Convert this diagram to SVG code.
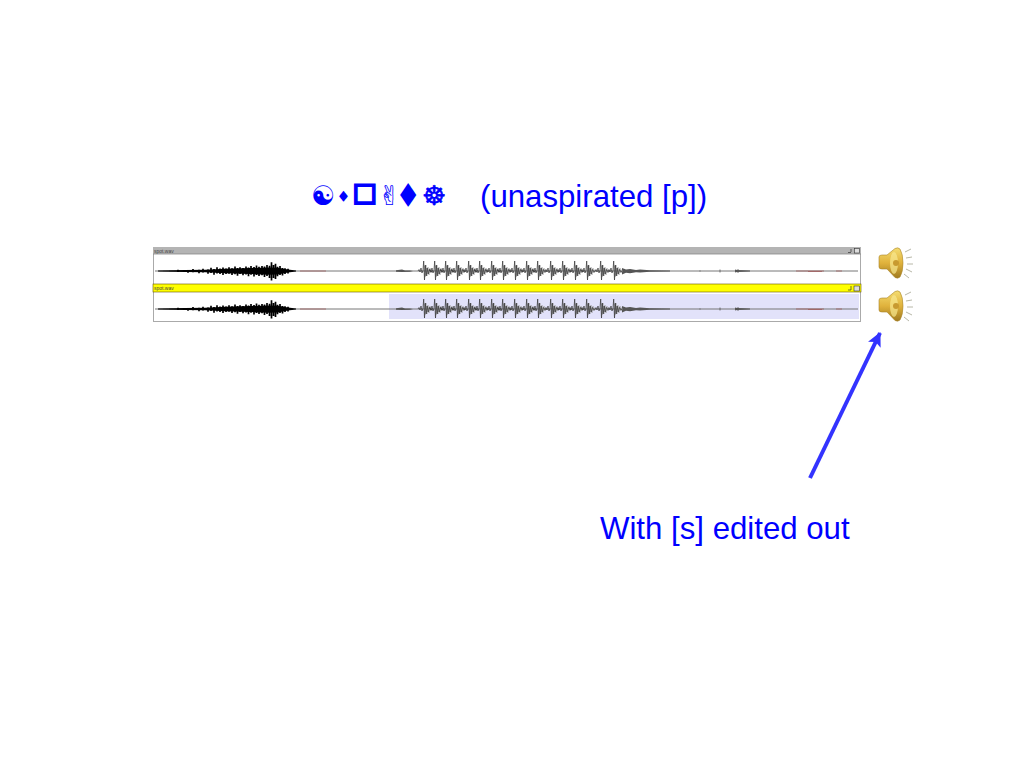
<svg xmlns="http://www.w3.org/2000/svg" width="1024" height="768" viewBox="0 0 1024 768">
<style>
.t{font-family:"Liberation Sans",Arial,sans-serif;font-size:31.2px;fill:#0000ff}
.g{font-family:"DejaVu Sans",sans-serif;fill:#0000ff}
.f{font-family:"Liberation Sans",Arial,sans-serif;font-size:5px;fill:#444}
.p{fill:none;stroke:#999;stroke-width:1}
.q{fill:none;stroke:#333;stroke-width:.7}
.r{stroke:#a06060;stroke-width:.8;fill:none}
.ray{stroke:#b8b8a8;stroke-width:1;fill:none}
</style>
<defs>
<filter id="soft" x="-2%" y="-30%" width="104%" height="160%"><feGaussianBlur stdDeviation=".3"/></filter>
<linearGradient id="gold" x1="0" y1="0" x2="0" y2="1"><stop offset="0" stop-color="#f4dc70"/><stop offset=".5" stop-color="#e0b23c"/><stop offset="1" stop-color="#a07a20"/></linearGradient>
<marker id="ah" markerUnits="userSpaceOnUse" markerWidth="14" markerHeight="16" refX="13" refY="7" orient="auto"><path d="M0 0L14 7L0 14L3 7z" fill="#3333ff"/></marker>
<g id="pulse">
<path class="p" d="M1 -5V6M2 -6V4M3 -3V5M4 -4V3M5 -2V4M6 -3V2M7 -1.500V2M8 -1V1"/>
<path class="q" d="M-6 0L-5 -1.500L-4 1L-3 -3L-2 2L-1 -1L-.3 -10L.5 9L1.300 -6L2.200 5L3.200 -3L4.200 3L5.500 -1.500L7 1L8.500 0"/>
</g>
<g id="wave" filter="url(#soft)">
<path d="M155 0H858" stroke="#777" stroke-width="1" fill="none"/>
<path fill="#000" d="M158 -.6L185 -.9L205 -1.300L225 -2.200L250 -3L268 -3.500L278 -3.200L288 -1.400L296 -.5L296 .5L288 1.600L278 3.500L268 3.800L250 3L225 2.200L205 1.300L185 .9L158 .6z"/>
<path stroke="#000" stroke-width="1.700" fill="none" d="M178 -1.300V1M188 -1V1.800M193 -2V1.200M199 -1.200V2.300M203 -2.300V1.500M208 -1.500V2.800M211 -3.200V2M214 -2V3.700M217 -3.800V2.400M220 -2.600V3M223 -3.500V4M226 -2.400V3M229 -3.800V2.800M232 -2.800V4M235 -4.600V3.200M237.500 -3V4.800M240 -3.800V3M243 -3V4.300M246 -4.400V3.400M248.500 -3.400V5.200M251 -5V3.800M254 -4V5.400M256.500 -5.400V4M259 -4.200V5M262 -5V4.200M264.500 -4.400V6M267 -6V5M269.500 -5.200V7M271.500 -8.800V9.500M273.500 -6V7M275.500 -7.200V8M277.500 -4.200V5.200M280 -5V4M282.500 -3V4.400M285 -2.800V3M288 -2.200V2.400"/>
<path class="r" d="M300 0H326M796 0H824M808 .5H822M836 0H842"/>
<path d="M396 -.8L402 -1.500L405 -.6L410 -.6L413 0L410 .8L402 1L396 .8zM622 -3L626 -1.500L630 -2L636 -1L640 -1.400L650 -.7L670 -.4L670 .4L650 .8L640 1.400L636 1.200L630 2.200L626 1.800L622 3.500z" fill="#555"/>
<path d="M735 -1.500L737 -1L750 -.5L750 .5L737 1L735 1.500z" fill="#555"/>
<path d="M700 -.6V.6M720 -1.500V1.500M738 -2V2" stroke="#555" stroke-width=".8"/>
<use href="#pulse" x="424"/><use href="#pulse" x="435"/><use href="#pulse" x="446"/><use href="#pulse" x="457"/><use href="#pulse" x="469"/><use href="#pulse" x="480"/><use href="#pulse" x="492"/><use href="#pulse" x="503"/><use href="#pulse" x="515"/><use href="#pulse" x="527"/><use href="#pulse" x="538"/><use href="#pulse" x="551"/><use href="#pulse" x="563"/><use href="#pulse" x="575"/><use href="#pulse" x="587"/><use href="#pulse" x="601"/><use href="#pulse" x="614"/>
</g>
<g id="spk">
<path d="M0 9Q0 7 3 7H8L16 0.500Q19 -1 21 1Q24 6 24 15Q24 24 21 29Q19 31 16 29.500L8 21H3Q0 21 0 19z" fill="url(#gold)" stroke="#a98428" stroke-width=".6"/>
<ellipse cx="15" cy="15" rx="4" ry="11" fill="#f8e890" opacity=".7"/>
<circle cx="17" cy="15" r="3" fill="#c89a30"/>
<path class="ray" d="M26 4L32 1M27 10L33 9M28 16H34M27 21L33 24M25 26L30 30"/>
</g>
</defs>

<g id="title">
<text class="g" y="205" font-size="27" x="311">☯</text>
<text class="g" transform="translate(339 200) scale(.72 .9)" font-size="16">◆</text>
<text class="g" y="202" font-size="30" x="352" stroke="#0000ff" stroke-width="2">◻</text>
<text class="g" y="205" font-size="27" x="378">✌</text>
<text class="g" transform="translate(400 203) scale(.88 1.300)" font-size="24">◆</text>
<text class="g" y="205" font-size="27" x="422" stroke="#0000ff" stroke-width=".6">☸</text>
<text class="t" x="480" y="207">(unaspirated [p])</text>
</g>

<g id="waveform-window-1">
<rect x="153.500" y="247.500" width="707" height="37" fill="#fff" stroke="#aaa"/>
<rect x="153" y="247" width="708" height="7" fill="#b4b4b4"/>
<path d="M153 254H861" stroke="#888" stroke-width=".8"/>
<text class="f" x="154" y="252.500">spot.wav</text>
<path d="M848 252.500H851M851 249V252" stroke="#333" stroke-width=".7"/>
<rect x="854.500" y="248.500" width="5" height="4.500" fill="#ddd" stroke="#333" stroke-width=".6"/>
<use href="#wave" y="271"/>
</g>

<g id="waveform-window-2">
<rect x="153.500" y="284.500" width="707" height="37" fill="#fff" stroke="#aaa"/>
<rect x="389" y="294" width="470" height="25" fill="#e2e2fa"/>
<rect x="153" y="284" width="708" height="8" fill="#ffff00" stroke="#665500" stroke-width=".6"/>
<text class="f" x="154" y="290">spot.wav</text>
<path d="M848 290H851M851 286V290" stroke="#333" stroke-width=".7"/>
<rect x="854" y="286" width="5.500" height="5" fill="#ddd" stroke="#333" stroke-width=".6"/>
<use href="#wave" y="309"/>
</g>

<g id="speaker-1"><use href="#spk" x="879" y="248"/></g>
<g id="speaker-2"><use href="#spk" x="879" y="291"/></g>

<g id="connectors">
<path d="M810 478L880 333" stroke="#3333ff" stroke-width="4" fill="none" marker-end="url(#ah)"/>
</g>

<g id="label"><text class="t" x="600" y="539">With [s] edited out</text></g>
</svg>
